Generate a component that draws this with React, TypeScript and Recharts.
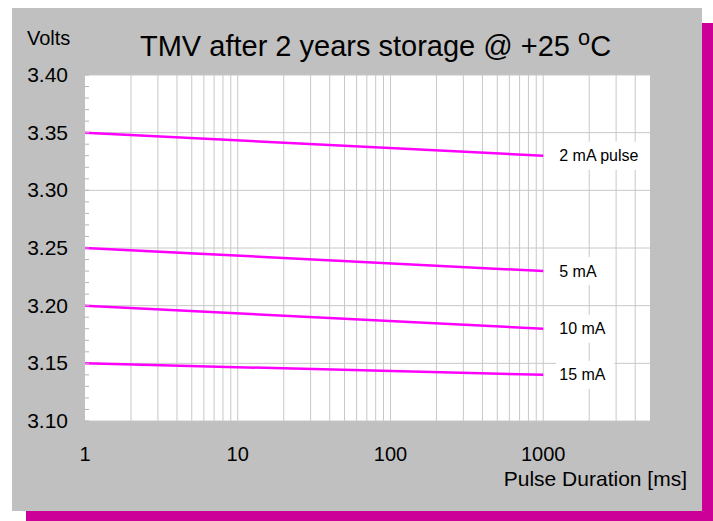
import { LineChart, Line, XAxis, YAxis, CartesianGrid, ReferenceLine, LabelList } from "recharts";

const pulseMs = [1, 1000];
const volts2mA = [3.35, 3.33];
const volts5mA = [3.25, 3.23];
const volts10mA = [3.2, 3.18];
const volts15mA = [3.15, 3.14];
const seriesNames = ["2 mA pulse", "5 mA", "10 mA", "15 mA"];
const seriesKeys = ["a2", "a5", "a10", "a15"];

const xTicks = [1, 10, 100, 1000];
const xGrid = [
  2, 3, 4, 5, 6, 7, 8, 9, 10, 20, 30, 40, 50, 60, 70, 80, 90, 100, 200, 300, 400, 500, 600, 700, 800, 900,
  1000, 2000, 3000, 4000,
];
const yMajor = [3.1, 3.15, 3.2, 3.25, 3.3, 3.35, 3.4];
const yMinor = Array.from({ length: 31 }, (_, i) => Math.round((3.1 + i * 0.01) * 100) / 100);

const data = pulseMs.map((ms, i) => ({
  ms,
  a2: volts2mA[i],
  a5: volts5mA[i],
  a10: volts10mA[i],
  a15: volts15mA[i],
}));

const FONT = '"Liberation Sans", Arial, sans-serif';

// rough Arial advance widths, em units
const charW: Record<string, number> = { " ": 0.278, m: 0.833, A: 0.667, p: 0.556, u: 0.556, l: 0.222, s: 0.5, e: 0.556 };
const textWidth = (s: string, size: number) =>
  s.split("").reduce((w, c) => w + (charW[c] ?? 0.556), 0) * size;

const YTick = (props: any) => {
  const { x, y, payload } = props;
  const v = payload.value as number;
  const major = Math.round(v * 100) % 5 === 0;
  return (
    <g>
      <line x1={x + 17} x2={x + 21} y1={y} y2={y} stroke="#b4b4b4" />
      {major && (
        <text x={x} y={y} dy="0.33em" textAnchor="end" fontSize={21} fill="#000" fontFamily={FONT}>
          {v.toFixed(2)}
        </text>
      )}
    </g>
  );
};

const endLabel = (name: string) => (props: any) => {
  if (props.index !== pulseMs.length - 1) return null;
  const px = props.x ?? props.viewBox?.x;
  const py = props.y ?? props.viewBox?.y;
  const w = textWidth(name, 16);
  return (
    <g>
      <rect x={px + 13} y={py - 14} width={w + 12} height={28} fill="#fff" />
      <text x={px + 16} y={py} dy="0.35em" fontSize={16} fill="#000" fontFamily={FONT}>
        {name}
      </text>
    </g>
  );
};

const App = () => {
  return (
    <div
      style={{
        position: "fixed",
        left: 0,
        top: 0,
        width: 713,
        height: 521,
        overflow: "hidden",
        fontFamily: FONT,
        background: "#fff",
      }}
    >
      <div style={{ position: "absolute", left: 26, top: 23, width: 690, height: 503, background: "#cc0099" }} />
      <div style={{ position: "absolute", left: 12, top: 8, width: 690, height: 503, background: "#c0c0c0" }}>
        <LineChart width={690} height={503} data={data} margin={{ top: 67, right: 52, bottom: 60, left: 0 }}>
          <CartesianGrid fill="#ffffff" horizontal={false} vertical={false} />
          {xGrid.map((v) => (
            <ReferenceLine key={"x" + v} x={v} stroke="#c8c8c8" strokeWidth={1} />
          ))}
          {yMajor.map((v) => (
            <ReferenceLine key={"y" + v} y={v} stroke="#c8c8c8" strokeWidth={1} />
          ))}
          <XAxis
            dataKey="ms"
            type="number"
            scale="log"
            domain={[1, 5000]}
            allowDataOverflow
            ticks={xTicks}
            interval={0}
            axisLine={false}
            tickLine={false}
            tickSize={0}
            tickMargin={26}
            height={30}
            tick={{ fill: "#000", fontSize: 20, fontFamily: FONT }}
          />
          <YAxis
            type="number"
            domain={[3.1, 3.4]}
            allowDataOverflow
            ticks={yMinor}
            interval={0}
            axisLine={false}
            tickLine={false}
            tickSize={0}
            tickMargin={17}
            width={73}
            tick={<YTick />}
          />
          {seriesKeys.map((k, i) => (
            <Line
              key={k}
              dataKey={k}
              type="linear"
              stroke="#ff00ff"
              strokeWidth={2.5}
              dot={false}
              isAnimationActive={false}
            >
              <LabelList dataKey={k} content={endLabel(seriesNames[i])} />
            </Line>
          ))}
        </LineChart>
      </div>
      <div style={{ position: "absolute", left: 27, top: 28, fontSize: 20, lineHeight: 1, color: "#000" }}>Volts</div>
      <div
        style={{ position: "absolute", left: 140, top: 32, fontSize: 29, lineHeight: 1, color: "#000", whiteSpace: "nowrap" }}
      >
        TMV after 2 years storage @ +25{" "}
        <span style={{ fontSize: "0.75em", position: "relative", top: "-0.5em" }}>o</span>C
      </div>
      <div
        style={{ position: "absolute", left: 440, width: 247, textAlign: "right", top: 468, fontSize: 21, lineHeight: 1, color: "#000", whiteSpace: "nowrap" }}
      >
        Pulse Duration [ms]
      </div>
    </div>
  );
};

export default App;
